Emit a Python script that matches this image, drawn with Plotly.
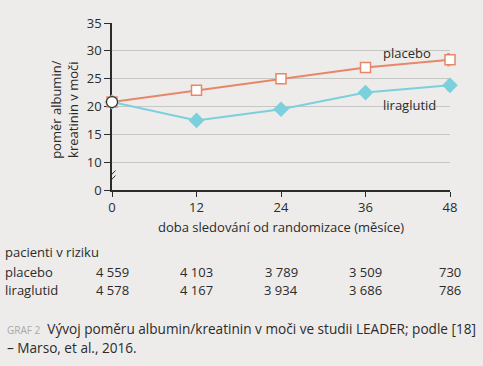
import plotly.graph_objects as go

months = [0, 12, 24, 36, 48]
placebo = [20.8, 22.9, 25.0, 27.0, 28.4]
liraglutid = [20.8, 17.5, 19.5, 22.5, 23.8]
placebo_err48 = 1.1
lira_err48 = 0.95
ytick_vals = [5, 10, 15, 20, 25, 30, 35]
ytick_text = ["0", "10", "15", "20", "25", "30", "35"]
risk_placebo = ["4 559", "4 103", "3 789", "3 509", "730"]
risk_lira = ["4 578", "4 167", "3 934", "3 686", "786"]

BG = "#edecea"
SALMON = "#e8866a"
CYAN = "#7ccfdc"
TXT = "#2b2b2b"
FONT = "Open Sans"

fig = go.Figure()
fig.add_trace(go.Scatter(
    x=months, y=placebo, mode="lines+markers",
    line=dict(color=SALMON, width=2),
    marker=dict(symbol="square", size=10, color="white", line=dict(color=SALMON, width=1.5)),
    error_y=dict(type="data", array=[0, 0, 0, 0, placebo_err48], color=SALMON, thickness=1, width=3),
    cliponaxis=False, showlegend=False))
fig.add_trace(go.Scatter(
    x=months, y=liraglutid, mode="lines+markers",
    line=dict(color=CYAN, width=2),
    marker=dict(symbol="diamond", size=12, color=CYAN, line=dict(color=CYAN, width=0)),
    error_y=dict(type="data", array=[0, 0, 0, 0, lira_err48], color=CYAN, thickness=1, width=3),
    cliponaxis=False, showlegend=False))
fig.add_trace(go.Scatter(
    x=[months[0]], y=[placebo[0]], mode="markers",
    marker=dict(symbol="circle", size=11, color="white", line=dict(color=TXT, width=1.2)),
    cliponaxis=False, showlegend=False))

fig.update_xaxes(range=[0, 48], tickvals=months, showline=True, linecolor=TXT, linewidth=1.5,
                 ticks="outside", ticklen=5, tickcolor=TXT, showgrid=False, zeroline=False,
                 layer="below traces",
                 tickfont=dict(size=13, color=TXT, family=FONT))
fig.update_yaxes(range=[5, 35], tickvals=ytick_vals, ticktext=ytick_text, showline=True,
                 linecolor=TXT, linewidth=1.5, ticks="outside", ticklen=6, tickcolor=TXT,
                 showgrid=True, gridcolor="#c6c6c4", gridwidth=1, zeroline=False,
                 layer="below traces",
                 tickfont=dict(size=13, color=TXT, family=FONT))

shapes = [
    dict(type="rect", xref="x", yref="y", x0=-0.6, x1=0.6, y0=6.9, y1=7.9,
         fillcolor=BG, line=dict(width=0), layer="above"),
    dict(type="line", xref="x", yref="y", x0=-0.5, x1=0.5, y0=6.3, y1=7.6,
         line=dict(color=TXT, width=1), layer="above"),
    dict(type="line", xref="x", yref="y", x0=-0.5, x1=0.5, y0=7.2, y1=8.5,
         line=dict(color=TXT, width=1), layer="above"),
]
fig.update_layout(shapes=shapes)

ann = []
ann.append(dict(x=41.9, y=29.7, xref="x", yref="y", text="placebo", showarrow=False,
                font=dict(size=13, color=TXT, family=FONT)))
ann.append(dict(x=42.3, y=20.3, xref="x", yref="y", text="liraglutid", showarrow=False,
                font=dict(size=13, color=TXT, family=FONT)))
ann.append(dict(x=-0.139, y=0.48, xref="paper", yref="paper", xanchor="center", yanchor="middle",
                text="poměr albumin/<br>kreatinin v moči", textangle=-90, showarrow=False,
                font=dict(size=13, color=TXT, family=FONT)))
ann.append(dict(x=0.5, y=-0.222, xref="paper", yref="paper", yanchor="middle",
                text="doba sledování od randomizace (měsíce)", showarrow=False,
                font=dict(size=13, color=TXT, family=FONT)))
ann.append(dict(x=-0.322, y=-0.371, xref="paper", yref="paper", xanchor="left", yanchor="middle",
                text="pacienti v riziku", showarrow=False,
                font=dict(size=13, color=TXT, family=FONT)))
ann.append(dict(x=-0.322, y=-0.491, xref="paper", yref="paper", xanchor="left", yanchor="middle",
                text="placebo", showarrow=False, font=dict(size=13, color=TXT, family=FONT)))
ann.append(dict(x=-0.322, y=-0.599, xref="paper", yref="paper", xanchor="left", yanchor="middle",
                text="liraglutid", showarrow=False, font=dict(size=13, color=TXT, family=FONT)))
for m, p, l in zip(months, risk_placebo, risk_lira):
    ann.append(dict(x=m, y=-0.491, xref="x", yref="paper", yanchor="middle", text=p,
                    showarrow=False, font=dict(size=13, color=TXT, family=FONT)))
    ann.append(dict(x=m, y=-0.599, xref="x", yref="paper", yanchor="middle", text=l,
                    showarrow=False, font=dict(size=13, color=TXT, family=FONT)))
ann.append(dict(x=-0.316, y=-0.832, xref="paper", yref="paper", xanchor="left", yanchor="middle",
                text="<span style='font-size:10px;color:#a9a9a7'>GRAF 2</span>  Vývoj poměru albumin/kreatinin v moči ve studii LEADER; podle [18]",
                showarrow=False, font=dict(size=13.6, color=TXT, family=FONT)))
ann.append(dict(x=-0.316, y=-0.946, xref="paper", yref="paper", xanchor="left", yanchor="middle",
                text="– Marso, et al., 2016.", showarrow=False,
                font=dict(size=13.6, color=TXT, family=FONT)))
fig.update_layout(annotations=ann)

fig.update_layout(width=483, height=366, margin=dict(l=112, r=33, t=23, b=176),
                  paper_bgcolor=BG, plot_bgcolor=BG, font=dict(family=FONT, color=TXT))
fig.write_html("out.html", config={"displayModeBar": False},
               post_script="document.body.style.margin='0';document.body.style.background='%s';" % BG)
